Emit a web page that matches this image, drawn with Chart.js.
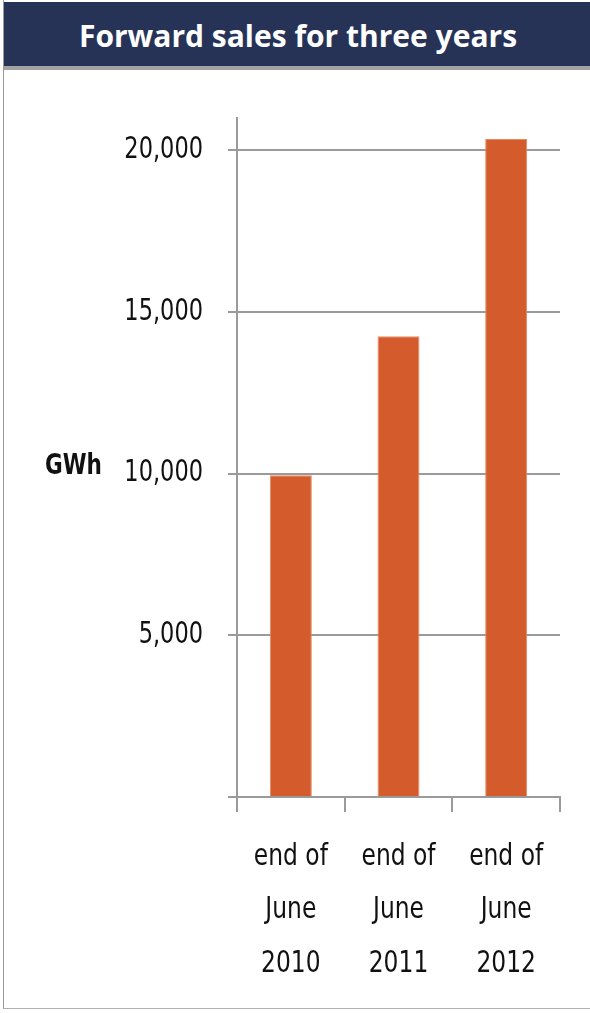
<!DOCTYPE html>
<html>
<head>
<meta charset="utf-8">
<script src="https://cdn.jsdelivr.net/npm/chart.js@4.4.1/dist/chart.umd.min.js"></script>
<style>
  html, body { margin: 0; padding: 0; background: #ffffff; }
  #wrap { position: relative; width: 590px; height: 1013px; overflow: hidden; }
  #frame {
    position: absolute; left: 3px; top: 0; width: 590px; height: 1008px;
    border-left: 1px solid #9a9a9a; border-bottom: 1px solid #b0b0b0;
  }
  #header {
    position: absolute; left: 4px; top: 2px; width: 586px; height: 64px;
    background: #263357; border-bottom: 4px solid #a3a3a3;
    color: #ffffff; font: bold 30px 'Open Sans', sans-serif;
    display: flex; align-items: center; justify-content: center;
    z-index: 2;
  }
  #header span { display: inline-block; transform: translate(1px, 1px); }
  #chart { position: absolute; left: 0; top: 0; }
</style>
</head>
<body>
<div id="wrap">
  <div id="frame"></div>
  <div id="header"><span>Forward sales for three years</span></div>
  <canvas id="chart" width="590" height="1013"></canvas>
</div>
<script>
// Forward sales volume (GWh) at the end of June each year
const categories = [
  ['end of', 'June', '2010'],
  ['end of', 'June', '2011'],
  ['end of', 'June', '2012']
];
const salesGWh = [9950, 14250, 20350];
const yTickValues = [0, 5000, 10000, 15000, 20000];
const yAxisUnit = 'GWh';

const labelFont = "'DejaVu Sans Condensed', 'Liberation Sans Narrow', sans-serif";
// Tall, narrow lettering: glyphs are stretched vertically around their anchor
const TEXT_STRETCH_Y = 1.18;

const tallText = {
  id: 'tallText',
  beforeDraw(chart) {
    const ctx = chart.ctx;
    if (ctx.__tall) return;
    const nativeFill = CanvasRenderingContext2D.prototype.fillText;
    ctx.fillText = function (text, x, y, maxWidth) {
      this.save();
      this.translate(x, y);
      this.scale(1, TEXT_STRETCH_Y);
      if (maxWidth === undefined) nativeFill.call(this, text, 0, 0);
      else nativeFill.call(this, text, 0, 0, maxWidth);
      this.restore();
    };
    ctx.__tall = true;
  }
};

// Draws the unit caption horizontally to the left of the value axis
const unitCaption = {
  id: 'unitCaption',
  afterDraw(chart) {
    const { ctx, chartArea } = chart;
    ctx.save();
    ctx.font = 'bold 24px ' + labelFont;
    ctx.fillStyle = '#111111';
    ctx.textAlign = 'left';
    ctx.textBaseline = 'middle';
    ctx.fillText(yAxisUnit, 45, chartArea.top + (chartArea.bottom - chartArea.top) * 0.513);
    ctx.restore();
  }
};

new Chart(document.getElementById('chart'), {
  type: 'bar',
  data: {
    labels: categories,
    datasets: [{
      data: salesGWh,
      backgroundColor: '#d45b2c',
      borderColor: '#e58a62',
      borderWidth: 1,
      barPercentage: 0.39,
      categoryPercentage: 1.0
    }]
  },
  options: {
    responsive: false,
    animation: false,
    layout: { padding: { left: 0, top: 118, right: 30, bottom: 0 } },
    plugins: { legend: { display: false }, tooltip: { enabled: false } },
    scales: {
      x: {
        afterFit(scale) { scale.height = 1013 - 797; },
        border: { color: '#9a9a9a', width: 2 },
        grid: { drawOnChartArea: false, drawTicks: true, tickLength: 15, color: '#9a9a9a', lineWidth: 2 },
        ticks: {
          color: '#111111',
          padding: 18,
          font: { family: labelFont, size: 26, lineHeight: '53.5px' },
          maxRotation: 0
        }
      },
      y: {
        min: 0,
        max: 21000,
        afterFit(scale) { scale.width = 237; },
        afterBuildTicks(scale) {
          scale.ticks = yTickValues.map(v => ({ value: v }));
        },
        border: { color: '#9a9a9a', width: 2 },
        grid: { color: '#9a9a9a', lineWidth: 2, tickLength: 9 },
        ticks: {
          color: '#111111',
          padding: 25,
          font: { family: labelFont, size: 25 },
          callback: v => (v === 0 ? '' : v.toLocaleString('en-US'))
        }
      }
    }
  },
  plugins: [tallText, unitCaption]
});
</script>
</body>
</html>
